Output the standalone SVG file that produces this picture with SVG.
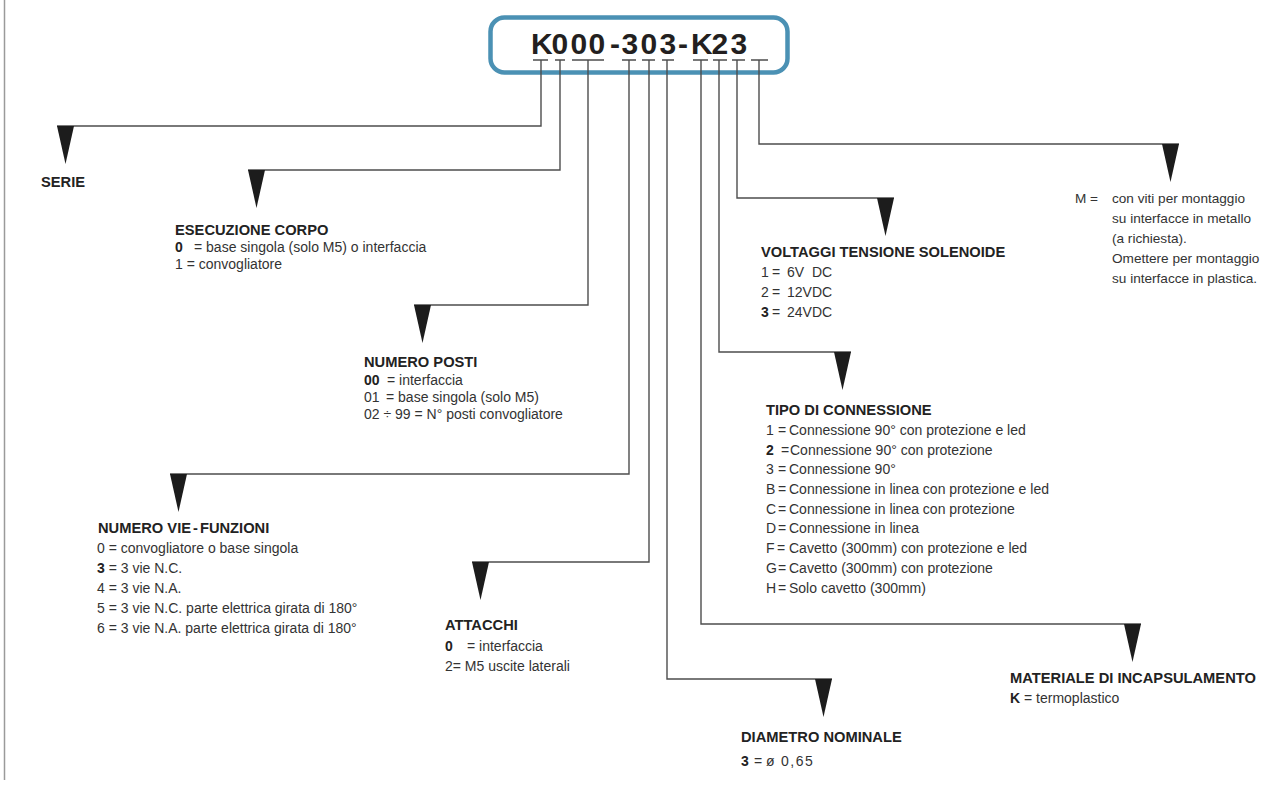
<svg xmlns="http://www.w3.org/2000/svg" width="1263" height="785" viewBox="0 0 1263 785">
<style>
  .ln { fill: none; stroke: #4d4d4d; stroke-width: 1.4; }
  .tk { fill: none; stroke: #4d4d4d; stroke-width: 1.4; }
  .arr { fill: #1c1c1c; }
  text { font-family: "Liberation Sans", Arial, sans-serif; }
  .t { font-size: 14px; fill: #333333; }
  .s { font-size: 13.6px; }
  .h { font-size: 14.7px; font-weight: bold; fill: #222222; }
  .b { font-weight: bold; fill: #222222; }
  .code { font-size: 30px; font-weight: bold; fill: #231f20; }
</style>
<defs>
  <path id="tri" class="arr" d="M0,0 H17 L8.5,38 Z"/>
</defs>
<rect x="0" y="0" width="1263" height="785" fill="#ffffff"/>
<line x1="4.5" y1="0" x2="4.5" y2="780" stroke="#9a9a9a" stroke-width="1.5"/>

<g id="code">
  <rect x="490.5" y="17.5" width="297" height="55" rx="14" fill="#ffffff" stroke="#4b91b4" stroke-width="4.5"/>
  <text class="code" x="531 551.5 570.5 588.5 610 621.5 640.5 659.5 678 691 711.5 730.5" y="54">K000-303-K23</text>
  <path class="tk" d="M533,60H548 M555,60H565 M572,60H604 M622,60H636 M642,60H655 M662,60H674 M693,60H708 M713,60H727 M732,60H745 M751,60H768"/>
</g>

<g id="connectors">
  <polyline class="ln" points="541,60 541,126 57,126"/>
  <polyline class="ln" points="560,60 560,170 248,170"/>
  <polyline class="ln" points="588,60 588,305 414,305"/>
  <polyline class="ln" points="629,60 629,474 170,474"/>
  <polyline class="ln" points="649,60 649,562 472,562"/>
  <polyline class="ln" points="667,60 667,679 832,679"/>
  <polyline class="ln" points="701,60 701,624 1141,624"/>
  <polyline class="ln" points="719,60 719,352 851,352"/>
  <polyline class="ln" points="737,60 737,198 894,198"/>
  <polyline class="ln" points="759,60 759,144 1179,144"/>
  <use href="#tri" x="57" y="126"/>
  <use href="#tri" x="248" y="170"/>
  <use href="#tri" x="414" y="305"/>
  <use href="#tri" x="170" y="474"/>
  <use href="#tri" x="472" y="562"/>
  <use href="#tri" x="815" y="679"/>
  <use href="#tri" x="1124" y="624"/>
  <use href="#tri" x="834" y="352"/>
  <use href="#tri" x="877" y="198"/>
  <use href="#tri" x="1162" y="144"/>
</g>

<g id="serie">
  <text class="h" x="41" y="187">SERIE</text>
</g>

<g id="esecuzione-corpo">
  <text class="h" x="175" y="235">ESECUZIONE CORPO</text>
  <text class="t" y="252"><tspan class="b" x="175">0</tspan><tspan x="194">= base singola (solo M5) o interfaccia</tspan></text>
  <text class="t" x="175" y="269">1 = convogliatore</text>
</g>

<g id="numero-posti">
  <text class="h" x="364" y="367">NUMERO POSTI</text>
  <text class="t" y="385"><tspan class="b" x="364">00</tspan><tspan x="387">= interfaccia</tspan></text>
  <text class="t" y="402"><tspan x="364">01</tspan><tspan x="386">= base singola (solo M5)</tspan></text>
  <text class="t" x="364" y="419">02 ÷ 99 = N° posti convogliatore</text>
</g>

<g id="numero-vie">
  <text class="h" x="98" y="533">NUMERO VIE<tspan dx="2">-</tspan><tspan dx="2">FUNZIONI</tspan></text>
  <text class="t" x="97" y="553">0 = convogliatore o base singola</text>
  <text class="t" x="97" y="573"><tspan class="b">3</tspan> = 3 vie N.C.</text>
  <text class="t" x="97" y="593">4 = 3 vie N.A.</text>
  <text class="t" x="97" y="613">5 = 3 vie N.C. parte elettrica girata di 180°</text>
  <text class="t" x="97" y="633">6 = 3 vie N.A. parte elettrica girata di 180°</text>
</g>

<g id="attacchi">
  <text class="h" x="445" y="630">ATTACCHI</text>
  <text class="t" y="651"><tspan class="b" x="445">0</tspan><tspan x="467">= interfaccia</tspan></text>
  <text class="t" x="445" y="671">2= M5 uscite laterali</text>
</g>

<g id="diametro-nominale">
  <text class="h" x="741" y="742">DIAMETRO NOMINALE</text>
  <text class="t" y="766"><tspan class="b" x="741">3</tspan><tspan x="754">= ø</tspan><tspan x="781" letter-spacing="1.5">0,65</tspan></text>
</g>

<g id="materiale">
  <text class="h" x="1010" y="683">MATERIALE DI INCAPSULAMENTO</text>
  <text class="t" x="1010" y="703"><tspan class="b">K</tspan> = termoplastico</text>
</g>

<g id="tipo-connessione">
  <text class="h" x="766" y="415">TIPO DI CONNESSIONE</text>
  <text class="t" y="435"><tspan x="766">1</tspan><tspan x="778">=</tspan><tspan x="789">Connessione 90° con protezione e led</tspan></text>
  <text class="t" y="455"><tspan class="b" x="766">2</tspan><tspan x="781">=</tspan><tspan x="790">Connessione 90° con protezione</tspan></text>
  <text class="t" y="474"><tspan x="766">3</tspan><tspan x="778">=</tspan><tspan x="789">Connessione 90°</tspan></text>
  <text class="t" y="494"><tspan x="766">B</tspan><tspan x="778">=</tspan><tspan x="789">Connessione in linea con protezione e led</tspan></text>
  <text class="t" y="514"><tspan x="766">C</tspan><tspan x="778">=</tspan><tspan x="789">Connessione in linea con protezione</tspan></text>
  <text class="t" y="533"><tspan x="766">D</tspan><tspan x="778">=</tspan><tspan x="789">Connessione in linea</tspan></text>
  <text class="t" y="553"><tspan x="766">F</tspan><tspan x="777">=</tspan><tspan x="789">Cavetto (300mm) con protezione e led</tspan></text>
  <text class="t" y="573"><tspan x="766">G</tspan><tspan x="778">=</tspan><tspan x="789">Cavetto (300mm) con protezione</tspan></text>
  <text class="t" y="593"><tspan x="766">H</tspan><tspan x="778">=</tspan><tspan x="789">Solo cavetto (300mm)</tspan></text>
</g>

<g id="voltaggi">
  <text class="h" x="761" y="257">VOLTAGGI TENSIONE SOLENOIDE</text>
  <text class="t" y="277"><tspan x="761">1</tspan><tspan x="772">=</tspan><tspan x="787">6V</tspan><tspan x="812">DC</tspan></text>
  <text class="t" y="297"><tspan x="761">2</tspan><tspan x="772">=</tspan><tspan x="787">12VDC</tspan></text>
  <text class="t" y="317"><tspan class="b" x="761">3</tspan><tspan x="772">=</tspan><tspan x="787">24VDC</tspan></text>
</g>

<g id="montaggio">
  <text class="t s" x="1075" y="203">M =</text>
  <text class="t s" x="1112" y="203">con viti per montaggio</text>
  <text class="t s" x="1112" y="223">su interfacce in metallo</text>
  <text class="t s" x="1112" y="243">(a richiesta).</text>
  <text class="t s" x="1112" y="263">Omettere per montaggio</text>
  <text class="t s" x="1112" y="283">su interfacce in plastica.</text>
</g>
</svg>
